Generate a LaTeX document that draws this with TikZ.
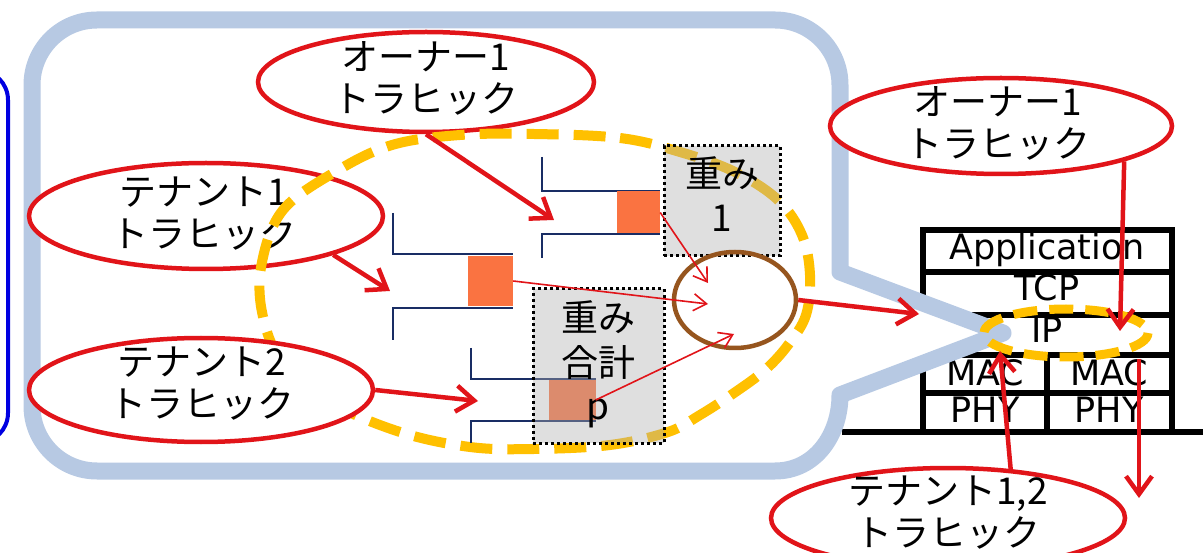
\documentclass[tikz,border=0pt]{standalone}
\usepackage{fontspec}
\setmainfont{DejaVu Sans}
\newfontfamily\jp{Noto Sans CJK JP}
\usetikzlibrary{shapes.geometric,arrows.meta}
\definecolor{cRed}{RGB}{225,20,25}
\definecolor{cCall}{RGB}{183,201,227}
\definecolor{cYel}{RGB}{255,192,0}
\definecolor{cNavy}{RGB}{25,45,100}
\definecolor{cOrange}{RGB}{250,115,65}
\definecolor{cBrown}{RGB}{150,85,30}
\definecolor{cBlue}{RGB}{0,0,225}
\definecolor{cGray}{RGB}{175,175,175}
\begin{document}
\begin{tikzpicture}[x=1pt,y=-1pt,
  redell/.style={draw=cRed,line width=4.5pt,ellipse,fill=white,inner sep=0pt},
  jpt/.style={font=\jp\fontsize{37pt}{42pt}\selectfont,align=center,inner sep=0pt,text=black},
  lat/.style={font=\fontsize{35pt}{42pt}\selectfont,inner sep=0pt,anchor=base,text=black},
  stk/.style={line width=5.5pt,draw=black,line cap=rect},
  callout/.style={draw=cCall,line width=17pt,fill=white,line join=round},
  ydash/.style={draw=cYel,line width=10pt,dash pattern=on 32pt off 15pt},
  ysmall/.style={draw=cYel,line width=9pt,dash pattern=on 24pt off 12pt},
  queue/.style={draw=cNavy,line width=2.5pt},
  sqbox/.style={fill=cOrange,inner sep=0pt},
  gbox/.style={draw=black,line width=3pt,dash pattern=on 3pt off 3pt,fill=cGray,fill opacity=0.4,inner sep=0pt},
  rarrow/.style={draw=cRed,line width=4.5pt,-{Straight Barb[length=18pt,width=26pt]}},
  tarrow/.style={draw=cRed,line width=1.6pt,-{Straight Barb[length=13pt,width=17pt]}},
]
\useasboundingbox (0,0) rectangle (1203,553);
\clip (0,0) rectangle (1203,553);

% protocol stack
\draw[stk] (923,230) rectangle (1172,432);
\draw[stk] (923,272) -- (1172,272);
\draw[stk] (923,315) -- (1172,315);
\draw[stk] (923,355) -- (1172,355);
\draw[stk] (923,393) -- (1172,393);
\draw[stk] (1047,355) -- (1047,432);
\draw[stk] (845,432) -- (1210,432);
\node[lat] (app) at (1047,260) {Application};
\node[lat] (tcp) at (1047,301) {TCP};
\node[lat] (ip) at (1047,343) {IP};
\node[lat] (mac1) at (985,386) {MAC};
\node[lat] (mac2) at (1109,386) {MAC};
\node[lat] (phy1) at (985,423) {PHY};
\node[lat] (phy2) at (1109,423) {PHY};

% callout
\draw[callout] (97,20) -- (775,20) .. controls (810.9,20) and (840,49.1) .. (840,85)
  -- (840,272) -- (1003,333) -- (840,395)
  .. controls (840,435) and (815,471) .. (775,471)
  -- (97,471) .. controls (61.1,471) and (32,441.9) .. (32,406)
  -- (32,85) .. controls (32,49.1) and (61.1,20) .. (97,20) -- cycle;

% left blue frame
\draw[cBlue,line width=4pt,rounded corners=30pt] (-40,70) -- (8,70) -- (8,443) -- (-40,443);

% ellipses (left part)
\node[redell,minimum width=354pt,minimum height=106pt] (ten1) at (206,216) {};
\node[jpt] (ten1t) at (204,214) {テナント1\\トラヒック};
\node[redell,minimum width=336pt,minimum height=100pt] (own1) at (426,82) {};
\node[jpt] (own1t) at (426,78) {オーナー1\\トラヒック};

% big yellow dashed ring
\draw[ydash] plot[smooth cycle,tension=0.6] coordinates {(534,134) (620,138) (680,152) (735,172) (778,200) (802,235) (810,275) (806,315) (788,345) (765,370) (734,393) (700,415) (668,432) (610,445) (534,449) (470,447) (400,432) (330,402) (282,362) (262,312) (262,262) (283,210) (335,172) (392,145) (460,135)};

\node[redell,minimum width=344pt,minimum height=104pt] (ten2) at (201,390) {};
\node[jpt] (ten2t) at (202,384) {テナント2\\トラヒック};

% queues
\draw[queue] (542,157) -- (542,191) -- (660,191);
\draw[queue] (542,258) -- (542,234) -- (660,234);
\node[sqbox,minimum width=43pt,minimum height=42pt] (sq1) at (638.5,212.5) {};
\draw[queue] (393,213) -- (393,254) -- (513,254);
\draw[queue] (393,340) -- (393,308) -- (513,308);
\node[sqbox,minimum width=45pt,minimum height=50pt] (sq2) at (490.5,281) {};
\draw[queue] (471,348) -- (471,379) -- (596,379);
\draw[queue] (471,443) -- (471,421) -- (596,421);
\node[sqbox,minimum width=47pt,minimum height=40pt] (sq3) at (572,400) {};

% weight boxes
\node[gbox,minimum width=116pt,minimum height=110pt] (w1) at (722,201) {};
\node[jpt] (w1a) at (722,173) {重み};
\node[jpt] (w1b) at (722,218) {1};
\node[gbox,minimum width=131pt,minimum height=154pt] (w2) at (598.5,366) {};
\node[jpt] (w2a) at (598,317) {重み};
\node[jpt] (w2b) at (598,362) {合計};
\node[jpt,anchor=base] (w2c) at (598,420) {p};

% scheduler circle
\node[draw=cBrown,line width=4.5pt,ellipse,minimum width=122pt,minimum height=96pt,inner sep=0pt] (circ) at (735,300) {};

% arrow end points
\coordinate (q1tip) at (554,220);
\coordinate (q2tip) at (390,291);
\coordinate (q3tip) at (478,401);
\coordinate (c1tip) at (708,283);
\coordinate (c2tip) at (708,304);
\coordinate (c3tip) at (734,334);
\coordinate (ptip) at (919,314);
\coordinate (iptip) at (1120,331);
\coordinate (dstart) at (1139,359);
\coordinate (dtip) at (1139,498);
\coordinate (utip) at (1000,351);

% thin arrows into the scheduler
\draw[tarrow] (sq1.east) -- (c1tip);
\draw[tarrow] (sq2.east) -- (c2tip);
\draw[tarrow] (sq3.east) -- (c3tip);

% thick arrows
\draw[rarrow] (own1.south) -- (q1tip);
\draw[rarrow] (ten1.-17) -- (q2tip);
\draw[rarrow] (ten2.east) -- (q3tip);
\draw[rarrow] (circ.east) -- (ptip);

% IP yellow ring
\draw[ysmall] (1066,333) ellipse[x radius=82,y radius=24];

% right ellipses
\node[redell,minimum width=342pt,minimum height=96pt] (own1r) at (1001,126) {};
\node[jpt] (own1rt) at (998,123) {オーナー1\\トラヒック};
\node[redell,minimum width=354pt,minimum height=100pt] (ten12) at (948,518) {};
\node[jpt] (ten12t) at (948,513) {テナント1,2\\トラヒック};

\draw[rarrow] (own1r.-16) -- (iptip);
\draw[rarrow] (dstart) -- (dtip);
\draw[rarrow] (ten12.38) -- (utip);
\end{tikzpicture}
\end{document}
